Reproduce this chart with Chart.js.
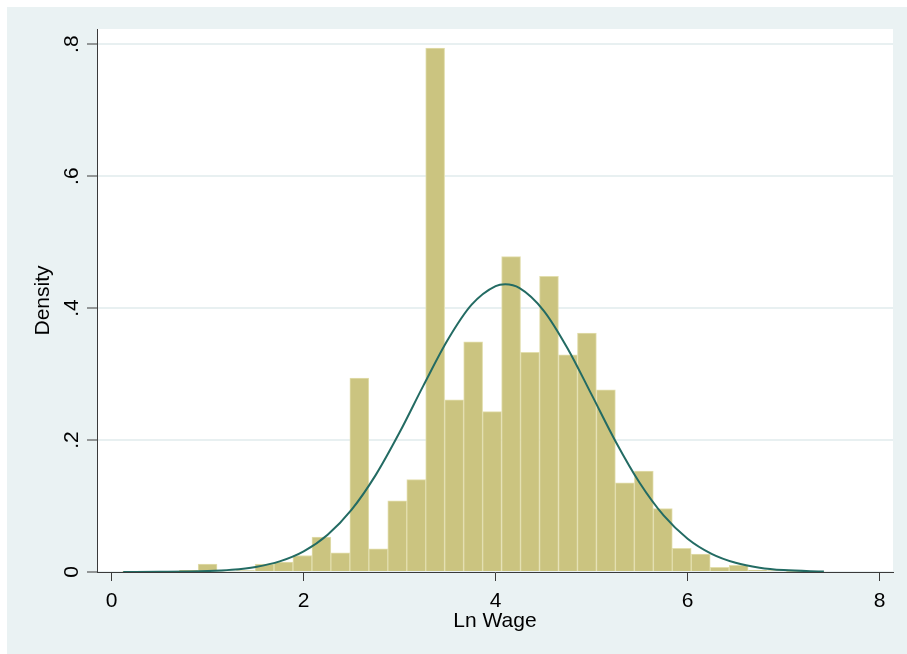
<!DOCTYPE html>
<html lang="en">
<head>
    <meta charset="UTF-8">
    <title>Ln Wage histogram</title>
    <script src="https://cdn.jsdelivr.net/npm/chart.js"></script>
    <style>
        body { margin: 0; background: #ffffff; }
        canvas { display: block; }
    </style>
</head>
<body>
    <canvas id="wageChart" width="907" height="654"></canvas>

    <script>
        // Histogram bins (bin centres on the Ln Wage axis) and their densities
        var binCenters = [0.209, 0.406, 0.604, 0.802, 0.999, 1.197, 1.394, 1.592, 1.790, 1.987,
                          2.185, 2.382, 2.580, 2.778, 2.975, 3.173, 3.370, 3.568, 3.766, 3.963,
                          4.161, 4.358, 4.556, 4.754, 4.951, 5.149, 5.346, 5.544, 5.742, 5.939,
                          6.137, 6.334, 6.532, 6.730, 6.927, 7.125, 7.322];
        var densities = [0.001, 0.0005, 0.0015, 0.0025, 0.012, 0.0015, 0.002, 0.012, 0.015, 0.025,
                         0.053, 0.029, 0.294, 0.035, 0.108, 0.140, 0.794, 0.261, 0.349, 0.243,
                         0.478, 0.333, 0.448, 0.329, 0.362, 0.276, 0.135, 0.153, 0.096, 0.036,
                         0.027, 0.007, 0.010, 0.003, 0.002, 0.001, 0.001];

        // Normal density overlay
        var curveX = [0.12, 0.5, 1.0, 1.25, 1.5, 1.75, 2.0, 2.25, 2.5, 2.75, 3.0, 3.25, 3.5, 3.75,
                      4.0, 4.1, 4.25, 4.5, 4.75, 5.0, 5.25, 5.5, 5.75, 6.0, 6.25, 6.5, 6.75, 7.0, 7.42];
        var curveY = [0.0000, 0.0002, 0.0014, 0.0034, 0.0077, 0.0161, 0.0313, 0.0565, 0.0945, 0.1468,
                      0.2117, 0.2832, 0.3516, 0.4052, 0.4334, 0.4360, 0.4302, 0.3963, 0.3388, 0.2688,
                      0.1979, 0.1353, 0.0858, 0.0505, 0.0276, 0.0140, 0.0066, 0.0029, 0.0006];

        var xTickLabels = ['0', '2', '4', '6', '8'];
        var yTickLabels = ['0', '.2', '.4', '.6', '.8'];

        var fontFamily = '"Liberation Sans", Arial, sans-serif';
        var axisColor = '#3a3a3a';
        var gridColor = '#e8f0f1';

        // background: bluish outer panel, white plot region
        var panelPlugin = {
            id: 'panel',
            beforeDraw: function (chart) {
                var ctx = chart.ctx;
                var a = chart.chartArea;
                ctx.save();
                ctx.fillStyle = '#ffffff';
                ctx.fillRect(0, 0, chart.width, chart.height);
                ctx.fillStyle = '#eaf2f3';
                ctx.fillRect(7, 7, chart.width - 7, chart.height - 7);
                ctx.fillStyle = '#ffffff';
                ctx.fillRect(a.left, a.top, a.right - a.left, a.bottom - a.top);
                ctx.restore();
            }
        };

        var barPoints = binCenters.map(function (c, i) { return { x: c, y: densities[i] }; });
        var curvePoints = curveX.map(function (c, i) { return { x: c, y: curveY[i] }; });

        var wageConfig = {
            type: 'bar',
            data: {
                datasets: [{
                    type: 'line',
                    data: curvePoints,
                    borderColor: '#236b63',
                    borderWidth: 2,
                    pointRadius: 0,
                    cubicInterpolationMode: 'monotone',
                    fill: false,
                    order: 0
                }, {
                    type: 'bar',
                    data: barPoints,
                    backgroundColor: '#cbc480',
                    borderColor: '#e2dead',
                    borderWidth: 1,
                    barPercentage: 1,
                    categoryPercentage: 1,
                    order: 1
                }]
            },
            options: {
                responsive: false,
                animation: false,
                devicePixelRatio: 1,
                layout: { padding: { top: 29, right: 14, bottom: 0, left: 0 } },
                plugins: {
                    legend: { display: false },
                    tooltip: { enabled: false }
                },
                scales: {
                    x: {
                        type: 'linear',
                        min: -0.153,
                        max: 8.14,
                        offset: false,
                        afterFit: function (scale) { scale.height = 82; },
                        grid: { offset: false, drawOnChartArea: false, drawTicks: true, tickLength: 9, tickColor: axisColor },
                        border: { color: axisColor, width: 1 },
                        ticks: {
                            stepSize: 2,
                            includeBounds: false,
                            maxRotation: 0,
                            padding: 8,
                            color: '#000000',
                            font: { family: fontFamily, size: 21 },
                            callback: function (v, i) { return xTickLabels[i]; }
                        },
                        title: {
                            display: true,
                            text: 'Ln Wage',
                            color: '#000000',
                            font: { family: fontFamily, size: 21 },
                            padding: { top: 0, bottom: 20 }
                        }
                    },
                    y: {
                        min: 0,
                        max: 0.823,
                        afterFit: function (scale) { scale.width = 97; },
                        grid: { color: gridColor, lineWidth: 2, drawTicks: true, tickLength: 10, tickColor: axisColor, tickWidth: 1 },
                        border: { color: axisColor, width: 1 },
                        ticks: {
                            stepSize: 0.2,
                            includeBounds: false,
                            minRotation: 90,
                            maxRotation: 90,
                            crossAlign: 'center',
                            padding: 6,
                            color: '#000000',
                            font: { family: fontFamily, size: 21 },
                            callback: function (v, i) { return yTickLabels[i]; }
                        },
                        title: {
                            display: true,
                            text: 'Density',
                            color: '#000000',
                            font: { family: fontFamily, size: 21 },
                            padding: { top: 31, bottom: 0 }
                        }
                    }
                }
            },
            plugins: [panelPlugin]
        };

        var wageChart = new Chart(document.getElementById('wageChart'), wageConfig);
    </script>
</body>
</html>
